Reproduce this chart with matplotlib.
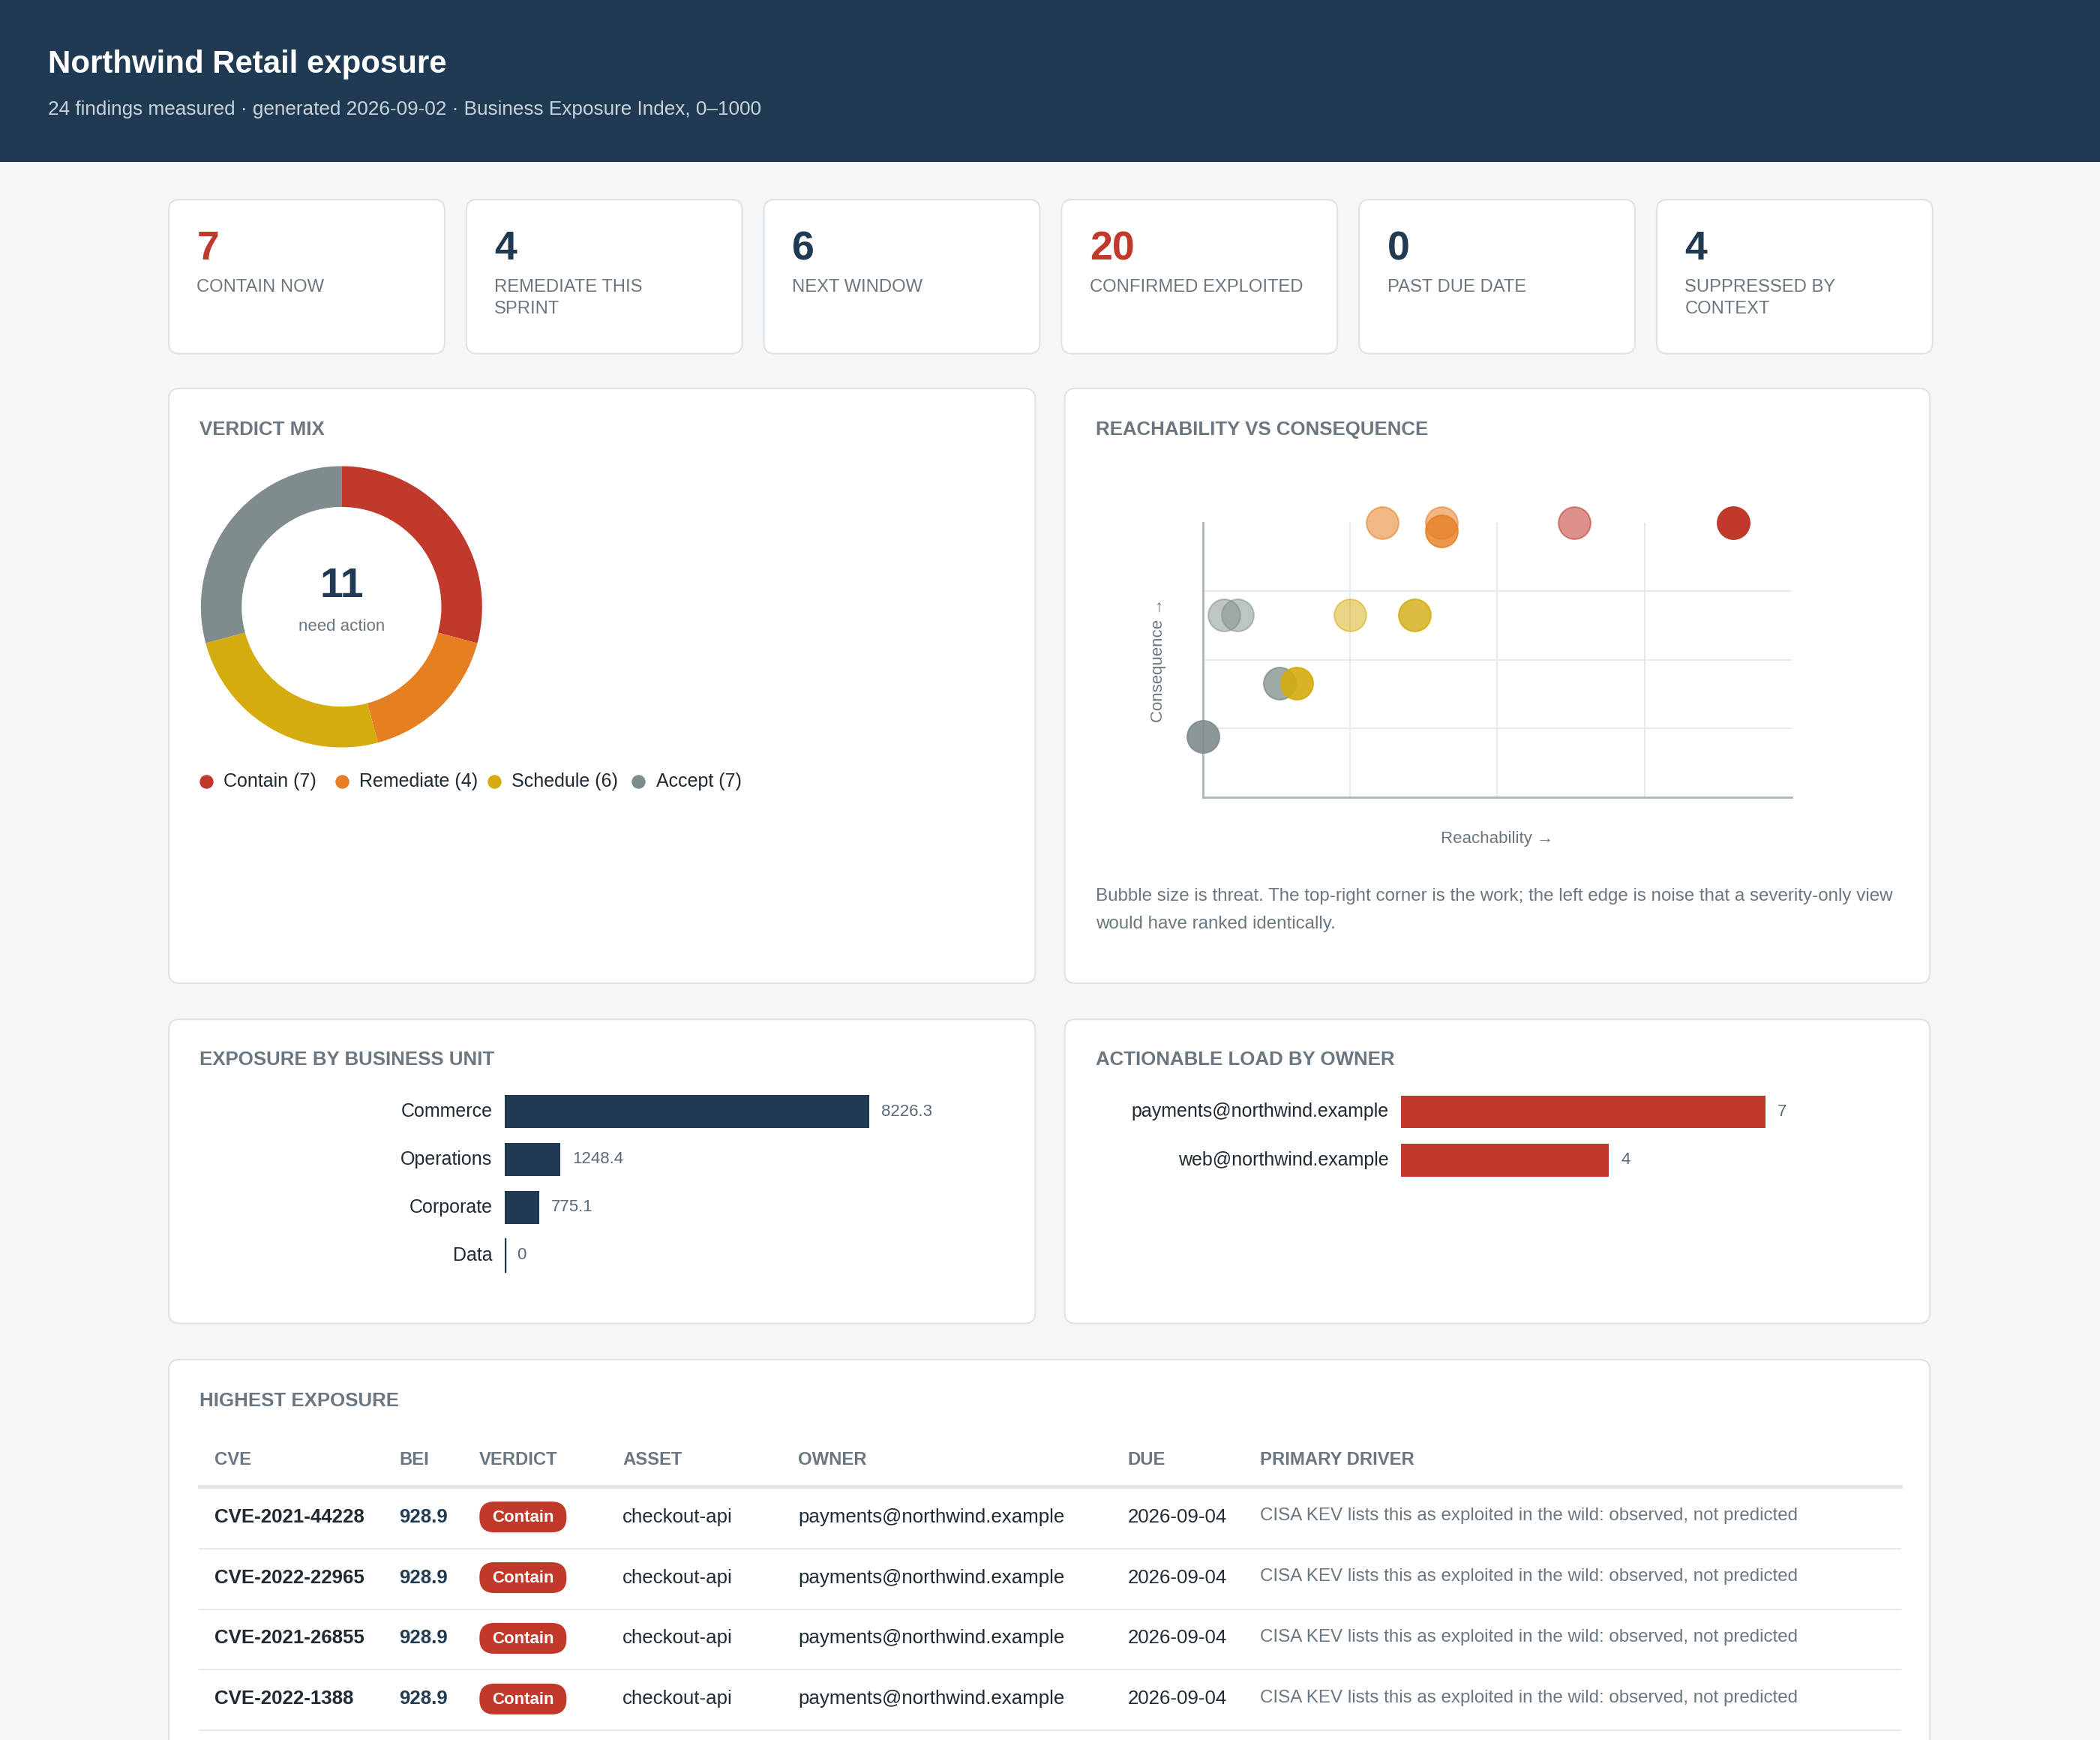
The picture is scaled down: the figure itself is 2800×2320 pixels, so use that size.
import matplotlib
matplotlib.use("Agg")
import matplotlib.pyplot as plt
from matplotlib.patches import FancyBboxPatch, Rectangle

plt.rcParams['font.family'] = ['Liberation Sans', 'DejaVu Sans']

# ---- data ----
kpi_values = [7, 4, 6, 20, 0, 4]
kpi_labels = ["CONTAIN NOW", "REMEDIATE THIS\nSPRINT", "NEXT WINDOW",
              "CONFIRMED EXPLOITED", "PAST DUE DATE", "SUPPRESSED BY\nCONTEXT"]
kpi_red = [True, False, False, True, False, False]

verdicts = ["Contain", "Remediate", "Schedule", "Accept"]
verdict_counts = [7, 4, 6, 7]
need_action = 11

# scatter: reachability, consequence, verdict, threat
reach = [0.305, 0.405, 0.405, 0.63, 0.90, 0.036, 0.059, 0.25, 0.36, 0.13, 0.16, 0.0]
conseq = [1.0, 1.0, 0.97, 1.0, 1.0, 0.663, 0.663, 0.663, 0.663, 0.415, 0.415, 0.22]
pt_verdict = ["Remediate", "Remediate", "Remediate", "Contain", "Contain", "Accept",
              "Accept", "Schedule", "Schedule", "Accept", "Schedule", "Accept"]
threat = [0.55, 0.55, 0.8, 0.55, 1.0, 0.5, 0.5, 0.5, 0.8, 0.75, 0.9, 0.9]

units = ["Commerce", "Operations", "Corporate", "Data"]
unit_bei = [8226.3, 1248.4, 775.1, 0]

owners = ["payments@northwind.example", "web@northwind.example"]
owner_load = [7, 4]

tbl_cols = ["CVE", "BEI", "VERDICT", "ASSET", "OWNER", "DUE", "PRIMARY DRIVER"]
tbl_cve = ["CVE-2021-44228", "CVE-2022-22965", "CVE-2021-26855", "CVE-2022-1388"]
tbl_bei = [928.9, 928.9, 928.9, 928.9]
tbl_verdict = ["Contain"] * 4
tbl_asset = ["checkout-api"] * 4
tbl_owner = ["payments@northwind.example"] * 4
tbl_due = ["2026-09-04"] * 4
tbl_driver = ["CISA KEV lists this as exploited in the wild: observed, not predicted"] * 4

COL = {"Contain": "#c0392b", "Remediate": "#e67e22", "Schedule": "#d4ac0d", "Accept": "#7f8c8d"}
NAVY = "#1f3a52"
MUTED = "#6b7780"
TXT = "#1f2a33"

W, H = 1568, 1299
F = 1.286  # ref px -> pt

fig = plt.figure(figsize=(28, 23.2), dpi=100)
fig.patch.set_facecolor("#f5f6f8")
bg = fig.add_axes([0, 0, 1, 1])
bg.set_xlim(0, W)
bg.set_ylim(H, 0)
bg.axis("off")


def t(x, y, s, size, color=TXT, weight="normal", ha="left", va="center", **kw):
    bg.text(x, y, s, fontsize=size * F, color=color, weight=weight, ha=ha, va=va, **kw)


def card(x, y, w, h):
    bg.add_patch(FancyBboxPatch((x, y), w, h, boxstyle="round,pad=0,rounding_size=8",
                                fc="white", ec="#dfe3e8", lw=1.5))


def sub(x, y, w, h):
    return fig.add_axes([x / W, 1 - (y + h) / H, w / W, h / H])


# header
bg.add_patch(Rectangle((0, 0), W, 121, fc=NAVY, ec="none"))
t(36, 48, "Northwind Retail exposure", 23.5, "white", "bold")
t(36, 82, "24 findings measured · generated 2026-09-02 · Business Exposure Index, 0–1000", 14.6, "#c9d3dc")

# KPI cards
for i, (v, lab, red) in enumerate(zip(kpi_values, kpi_labels, kpi_red)):
    x = 126 + i * 222.2
    card(x, 149, 206, 115)
    t(x + 21, 186, str(v), 30, "#c0392b" if red else NAVY, "bold")
    t(x + 21, 208.5, lab, 13.3, MUTED, va="top", linespacing=1.4)

# panels
card(126, 290, 647, 444)
card(795, 290, 646, 444)
card(126, 761, 647, 227)
card(795, 761, 646, 227)
card(126, 1015, 1315, 300)
for x, y, s in [(149, 321, "VERDICT MIX"), (818, 321, "REACHABILITY VS CONSEQUENCE"),
                (149, 791, "EXPOSURE BY BUSINESS UNIT"), (818, 791, "ACTIONABLE LOAD BY OWNER"),
                (149, 1046, "HIGHEST EXPOSURE")]:
    t(x, y, s, 14.5, MUTED, "bold")

# donut
ax = sub(150, 348, 210, 210)
ax.pie(verdict_counts, colors=[COL[v] for v in verdicts], startangle=90, counterclock=False,
       wedgeprops=dict(width=0.29, edgecolor="white", linewidth=0))
ax.set_xlim(-1, 1)
ax.set_ylim(-1, 1)
ax.set_aspect("equal")
t(255, 438, str(need_action), 31, NAVY, "bold", ha="center")
t(255, 468, "need action", 12.5, MUTED, ha="center")
lx = 149
for v, c in zip(verdicts, verdict_counts):
    bg.scatter([lx + 5], [583.5], s=150, color=COL[v], zorder=3)
    lab = f"{v} ({c})"
    t(lx + 18, 583.5, lab, 14, TXT)
    lx += 18 + len(lab) * 6.3 + 14

# scatter
ax = sub(898, 390, 440, 205)
for x, y, v, th in zip(reach, conseq, pt_verdict, threat):
    ax.scatter(x, y, s=950, color=COL[v], alpha=th, edgecolor=COL[v], linewidth=1.5,
               zorder=3, clip_on=False)
ax.set_xlim(0, 1)
ax.set_ylim(0, 1)
ax.set_xticks([0.25, 0.5, 0.75])
ax.set_yticks([0.25, 0.5, 0.75])
ax.grid(color="#e8ebee", lw=1.5)
ax.tick_params(length=0, labelbottom=False, labelleft=False)
for s in ["top", "right"]:
    ax.spines[s].set_visible(False)
for s in ["left", "bottom"]:
    ax.spines[s].set_color("#aab5bd")
    ax.spines[s].set_linewidth(2)
t(1118, 626, "Reachability →", 12.5, MUTED, ha="center")
t(865, 493, "Consequence →", 12.5, MUTED, ha="center", rotation=90)
t(818, 669, "Bubble size is threat. The top-right corner is the work; the left edge is noise that a severity-only view", 13.5, MUTED)
t(818, 690, "would have ranked identically.", 13.5, MUTED)

# business unit bars
ax = sub(377, 812, 372, 143)
ypos = list(range(len(units)))
ax.barh(ypos, unit_bei, height=0.68, color=NAVY)
ax.set_ylim(len(units) - 0.5, -0.5)
ax.set_xlim(0, max(unit_bei) * 372 / 272)
ax.axis("off")
for yv, (u, v) in enumerate(zip(units, unit_bei)):
    if v == 0:
        ax.plot([0, 0], [yv - 0.34, yv + 0.34], color=NAVY, lw=2.5)
    ax.text(-0.025, yv, u, transform=ax.get_yaxis_transform(), ha="right", va="center",
            fontsize=14 * F, color=TXT)
    ax.text(v + max(unit_bei) * 0.033, yv, f"{v:g}" if v else "0", va="center",
            fontsize=12.5 * F, color="#5a6b78")

# owner bars
ax = sub(1046, 812, 372, 72)
ax.barh(range(len(owners)), owner_load, height=0.68, color="#c0392b")
ax.set_ylim(len(owners) - 0.5, -0.5)
ax.set_xlim(0, max(owner_load) * 372 / 272)
ax.axis("off")
for yv, (o, v) in enumerate(zip(owners, owner_load)):
    ax.text(-0.025, yv, o, transform=ax.get_yaxis_transform(), ha="right", va="center",
            fontsize=14 * F, color=TXT)
    ax.text(v + max(owner_load) * 0.033, yv, str(v), va="center", fontsize=12.5 * F, color="#5a6b78")

# table
colx = [160, 298, 358, 465, 596, 842, 941]
for x, c in zip(colx, tbl_cols):
    t(x, 1090, c, 13.4, MUTED, "bold")
bg.plot([149, 1419], [1109.5, 1109.5], color="#e1e5e9", lw=3.5)
for i in range(len(tbl_cve)):
    y = 1132.5 + i * 45.3
    t(colx[0], y, tbl_cve[i], 14.5, TXT, "bold")
    t(colx[1], y, f"{tbl_bei[i]:.1f}", 14.5, NAVY, "bold")
    bg.add_patch(FancyBboxPatch((358, y - 11.5), 65, 23, boxstyle="round,pad=0,rounding_size=11",
                                fc=COL[tbl_verdict[i]], ec="none"))
    t(390.5, y + 0.5, tbl_verdict[i], 12.5, "white", "bold", ha="center")
    t(colx[3], y, tbl_asset[i], 14.5, TXT)
    t(colx[4], y, tbl_owner[i], 14.5, TXT)
    t(colx[5], y, tbl_due[i], 14.5, TXT)
    t(colx[6], y - 1, tbl_driver[i], 13.5, MUTED)
    bg.plot([149, 1419], [y + 23.5, y + 23.5], color="#e6e9ec", lw=1.5)

fig.savefig("out.png", dpi=100, facecolor=fig.get_facecolor())
